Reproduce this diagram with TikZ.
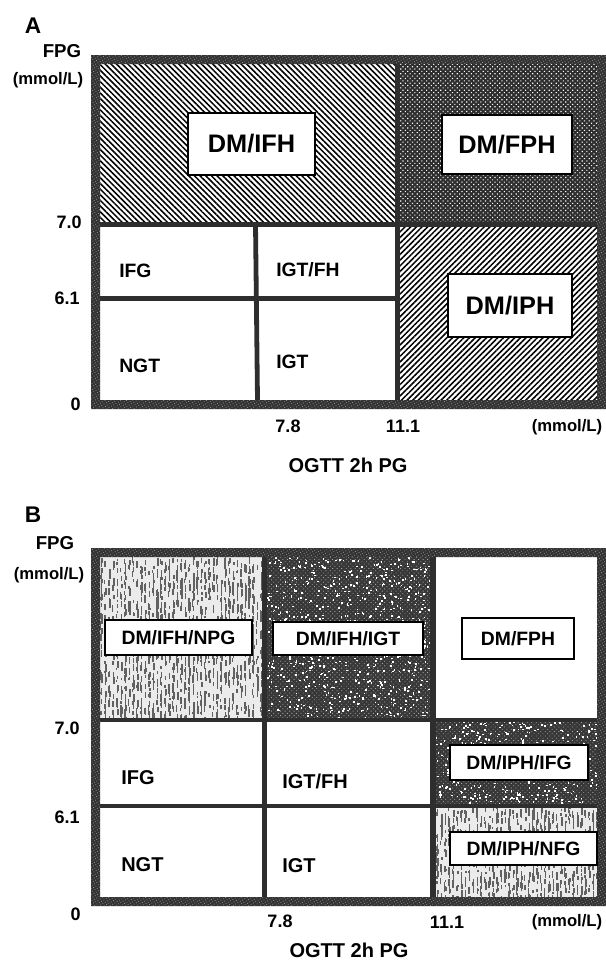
\documentclass[tikz,border=0pt]{standalone}
\usepackage{fontspec}
\setmainfont{Liberation Sans}
\usetikzlibrary{patterns.meta}
\begin{document}
\begin{tikzpicture}[x=0.75pt,y=-0.75pt,
  framefill/.style={fill=black!80,even odd rule,postaction={pattern={Dots[distance=2pt,radius=0.4pt,angle=30]},pattern color=black!40,even odd rule}},
  divline/.style={draw=black!82,line width=3.6pt},
  panellet/.style={font=\fontsize{17}{17}\selectfont\bfseries,inner sep=0pt},
  fpglab/.style={font=\fontsize{14}{14}\selectfont\bfseries,inner sep=0pt},
  unitlab/.style={font=\fontsize{12.5}{13}\selectfont\bfseries,inner sep=0pt},
  axnum/.style={font=\fontsize{13.5}{14}\selectfont\bfseries,inner sep=0pt},
  xtitle/.style={font=\fontsize{15}{15}\selectfont\bfseries,inner sep=0pt},
  regA/.style={font=\fontsize{14.5}{15}\selectfont\bfseries,inner sep=0pt,anchor=west},
  regB/.style={font=\fontsize{15}{15}\selectfont\bfseries,inner sep=0pt,anchor=west},
  boxA/.style={draw=black,line width=2pt,fill=white,inner sep=0pt,font=\fontsize{19}{19}\selectfont\bfseries},
  boxB/.style={draw=black,line width=1.8pt,fill=white,inner sep=0pt,font=\fontsize{14.5}{15}\selectfont\bfseries},
  darknoise/.style={preaction={fill=black!78},pattern={Dots[distance=2.4pt,radius=0.45pt,angle=45]},pattern color=black!35},
]
\useasboundingbox (0,0) rectangle (606,960);
\pgfmathsetseed{7}

% ================= Panel A =================
\path[pattern={Lines[angle=-45,distance=3pt,line width=1.15pt]},pattern color=black] (100,64) rectangle (397,224);
\path[preaction={fill=black!82},pattern={Dots[distance=2.5pt,radius=0.6pt,angle=45]},pattern color=white] (397,64) rectangle (598,224);
\path[pattern={Lines[angle=45,distance=3pt,line width=1.15pt]},pattern color=black] (397,224) rectangle (598,400);

\draw[divline] (100,224.5) -- (598,224.5);
\draw[divline] (100,298.5) -- (397,298.5);
\draw[divline] (255.5,224) -- (257.5,400);
\draw[divline,line width=3.9pt] (397.5,64) -- (397.5,400);
\path[framefill] (91,55) rectangle (606,409) (100,64) rectangle (597,400);

\node[boxA,minimum width=95.25pt,minimum height=46.5pt] (bIFH) at (251.5,144) {DM/IFH};
\node[boxA,minimum width=97.5pt,minimum height=44.25pt] (bFPH) at (507,144.5) {DM/FPH};
\node[boxA,minimum width=93pt,minimum height=47.25pt] (bIPH) at (510,305.5) {DM/IPH};

\node[regA] (aIFG) at (119,271) {IFG};
\node[regA] (aIGTFH) at (276,270) {IGT/FH};
\node[regA] (aNGT) at (119,366) {NGT};
\node[regA] (aIGT) at (276,362) {IGT};

\node[panellet] (pA) at (33,26) {A};
\node[fpglab] (fpgA) at (62,51) {FPG};
\node[unitlab] (unitA) at (48,80) {(mmol/L)};
\node[axnum,anchor=east] (y70A) at (82,222) {7.0};
\node[axnum,anchor=east] (y61A) at (80,298) {6.1};
\node[axnum,anchor=east] (y0A) at (81,404) {0};
\node[axnum] (x78A) at (288,426) {7.8};
\node[axnum] (x111A) at (403,426) {11.1};
\node[unitlab] (xuA) at (567,427) {(mmol/L)};
\node[xtitle] (xtA) at (348,465) {OGTT 2h PG};

% ================= Panel B =================
% light streak region DM/IFH/NPG
\begin{scope}
\clip (100,557) rectangle (264,720);
\fill[black!8] (100,557) rectangle (264,720);
\foreach \k in {1,...,1500}{
  \pgfmathsetmacro{\rx}{100+4*floor(41*rnd)+1.5*rnd}
  \pgfmathsetmacro{\ry}{557+163*rnd}
  \pgfmathsetmacro{\rh}{2+6*rnd}
  \fill[black!62] (\rx,\ry) rectangle ++(1.3,\rh);
}
\end{scope}
% dark noise region DM/IFH/IGT
\begin{scope}
\clip (265,557) rectangle (432,720);
\path[darknoise] (265,557) rectangle (432,720);
\foreach \k in {1,...,800}{
  \pgfmathsetmacro{\rx}{265+167*rnd}
  \pgfmathsetmacro{\ry}{557+163*rnd}
  \fill[white] (\rx,\ry) rectangle ++(1.6,1.6);
}
\end{scope}
% dark noise region DM/IPH/IFG
\begin{scope}
\clip (432,720) rectangle (598,806);
\path[darknoise] (432,720) rectangle (598,806);
\foreach \k in {1,...,420}{
  \pgfmathsetmacro{\rx}{432+166*rnd}
  \pgfmathsetmacro{\ry}{720+86*rnd}
  \fill[white] (\rx,\ry) rectangle ++(1.6,1.6);
}
\end{scope}
% light streak region DM/IPH/NFG
\begin{scope}
\clip (432,806) rectangle (598,897);
\fill[black!8] (432,806) rectangle (598,897);
\foreach \k in {1,...,850}{
  \pgfmathsetmacro{\rx}{432+4*floor(42*rnd)+1.5*rnd}
  \pgfmathsetmacro{\ry}{806+91*rnd}
  \pgfmathsetmacro{\rh}{2+6*rnd}
  \fill[black!62] (\rx,\ry) rectangle ++(1.3,\rh);
}
\end{scope}

\draw[divline] (100,720) -- (598,720);
\draw[divline] (100,806) -- (598,806);
\draw[divline] (264.5,557) -- (264.5,897);
\draw[divline,line width=4.5pt] (432.5,557) -- (432.5,897);
\path[framefill] (91,548) rectangle (606,906) (100,557) rectangle (597,897);

\node[boxB,minimum width=110.25pt,minimum height=26.25pt] (bNPG) at (178.5,637.5) {DM/IFH/NPG};
\node[boxB,minimum width=112.5pt,minimum height=24.75pt] (bIGTb) at (348,638.5) {DM/IFH/IGT};
\node[boxB,minimum width=84pt,minimum height=30.75pt] (bFPHb) at (518,638.5) {DM/FPH};
\node[boxB,minimum width=103.5pt,minimum height=26.25pt] (bIFGb) at (519,762.5) {DM/IPH/IFG};
\node[boxB,minimum width=110.25pt,minimum height=24.75pt] (bNFGb) at (523.5,848.5) {DM/IPH/NFG};

\node[regB] (bIFG) at (121,778) {IFG};
\node[regB] (bIGTFH) at (282,781) {IGT/FH};
\node[regB] (bNGT) at (121,865) {NGT};
\node[regB] (bIGT) at (282,866) {IGT};

\node[panellet] (pB) at (33,515) {B};
\node[fpglab] (fpgB) at (55,543) {FPG};
\node[unitlab] (unitB) at (49,575) {(mmol/L)};
\node[axnum,anchor=east] (y70B) at (80,728) {7.0};
\node[axnum,anchor=east] (y61B) at (80,817) {6.1};
\node[axnum,anchor=east] (y0B) at (81,914) {0};
\node[axnum] (x78B) at (280,921) {7.8};
\node[axnum] (x111B) at (447,922) {11.1};
\node[unitlab] (xuB) at (567,922) {(mmol/L)};
\node[xtitle] (xtB) at (349,950) {OGTT 2h PG};
\end{tikzpicture}
\end{document}
